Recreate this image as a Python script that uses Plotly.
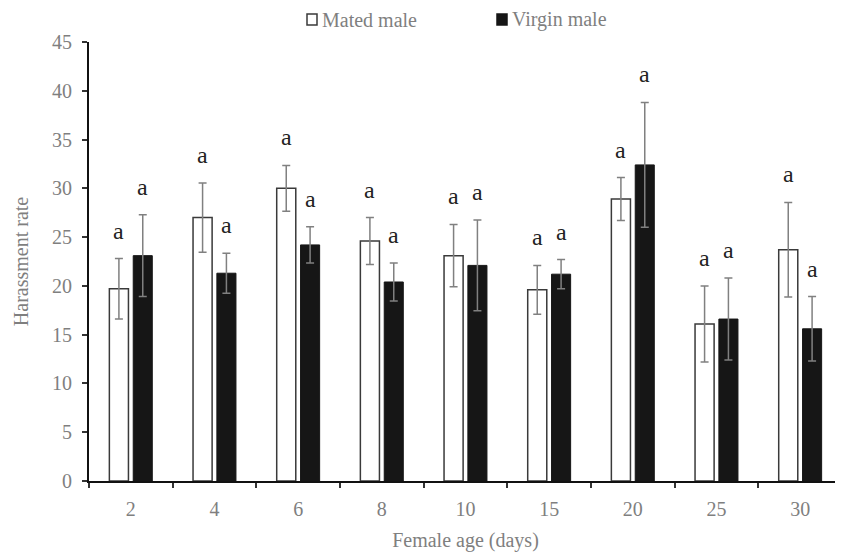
import plotly.graph_objects as go

ages = ["2", "4", "6", "8", "10", "15", "20", "25", "30"]
mated_mean = [19.7, 27.0, 30.0, 24.6, 23.1, 19.6, 28.9, 16.1, 23.7]
mated_se = [3.1, 3.55, 2.35, 2.4, 3.2, 2.5, 2.2, 3.9, 4.85]
virgin_mean = [23.1, 21.3, 24.2, 20.4, 22.1, 21.2, 32.4, 16.6, 15.6]
virgin_se = [4.2, 2.05, 1.85, 1.95, 4.65, 1.5, 6.4, 4.2, 3.3]
mated_letters = ["a"] * 9
virgin_letters = ["a"] * 9
series_names = ["Mated male", "Virgin male"]

FONT = "Liberation Serif, Times New Roman, serif"
GRAY = "#7f7f7f"
PAGE_PAD = 8  # browser default body margin
W, H = 843 - PAGE_PAD, 552 - PAGE_PAD
ML, MR, MT, MB = 81, 1, 34, 71
PW, PH = W - ML - MR, H - MT - MB
BARGAP = 0.43
BARGROUPGAP = 0.2
MATED_FILL, MATED_LINE = "white", "#3a3a3a"
VIRGIN_FILL = "#161616"

fig = go.Figure()
fig.add_trace(go.Bar(
    name=series_names[0], x=ages, y=mated_mean, showlegend=False,
    marker=dict(color=MATED_FILL, line=dict(color=MATED_LINE, width=1.5)),
    error_y=dict(type="data", array=mated_se, visible=True,
                 color="#808080", thickness=1.5, width=4),
))
fig.add_trace(go.Bar(
    name=series_names[1], x=ages, y=virgin_mean, showlegend=False,
    marker=dict(color=VIRGIN_FILL, line=dict(color=VIRGIN_FILL, width=1)),
    error_y=dict(type="data", array=virgin_se, visible=True,
                 color="#808080", thickness=1.5, width=4),
))

cat_px = PW / len(ages)
shift = (1 - BARGAP) / 4 * cat_px
for i in range(len(ages)):
    for mean, se, lab, sgn in ((mated_mean[i], mated_se[i], mated_letters[i], -1),
                               (virgin_mean[i], virgin_se[i], virgin_letters[i], 1)):
        fig.add_annotation(x=i, y=mean + se, text=lab, showarrow=False,
                           xshift=sgn * shift, yshift=28, yanchor="middle",
                           font=dict(family=FONT, size=24, color="#222222"))

# manual legend (page pixel layout -> paper coordinates)
def px_x(p):
    return (p - PAGE_PAD - ML) / PW

def px_y(p):
    return (H - MB - (p - PAGE_PAD)) / PH

legend_items = [(series_names[0], 307, MATED_FILL, MATED_LINE),
                (series_names[1], 497, VIRGIN_FILL, VIRGIN_FILL)]
for name, x0, fill, line in legend_items:
    fig.add_shape(type="rect", xref="paper", yref="paper",
                  x0=px_x(x0), x1=px_x(x0 + 10), y0=px_y(25), y1=px_y(14),
                  fillcolor=fill, line=dict(color=line, width=1.5))
    fig.add_annotation(xref="paper", yref="paper", x=px_x(x0 + 13), y=px_y(19.5),
                       xanchor="left", yanchor="middle", text=name, showarrow=False,
                       font=dict(family=FONT, size=20, color=GRAY))

fig.update_layout(
    width=W, height=H,
    margin=dict(l=ML, r=MR, t=MT, b=MB),
    paper_bgcolor="white", plot_bgcolor="white",
    barmode="group", bargap=BARGAP, bargroupgap=BARGROUPGAP,
    font=dict(family=FONT, size=20, color=GRAY),
    showlegend=False,
    xaxis=dict(
        type="category", range=[-0.5, len(ages) - 0.5], autorange=False,
        automargin=False,
        tickson="boundaries", ticks="outside", ticklen=5, tickangle=0,
        tickcolor="#333333", tickwidth=1.5, ticklabelstandoff=9,
        showline=True, linecolor="#111111", linewidth=2,
        showgrid=False, zeroline=False,
        tickfont=dict(family=FONT, size=20, color=GRAY),
        title=dict(text="Female age (days)", standoff=14,
                   font=dict(family=FONT, size=20, color=GRAY)),
    ),
    yaxis=dict(
        range=[0, 45], autorange=False, automargin=False,
        tickvals=list(range(0, 46, 5)),
        ticks="outside", ticklen=5,
        tickcolor="#333333", tickwidth=1.5,
        showline=True, linecolor="#111111", linewidth=2,
        showgrid=False, zeroline=False, ticklabelstandoff=6,
        tickfont=dict(family=FONT, size=20, color=GRAY),
        title=dict(text="Harassment rate", standoff=18,
                   font=dict(family=FONT, size=20, color=GRAY)),
    ),
)

fig.write_html("out.html")
